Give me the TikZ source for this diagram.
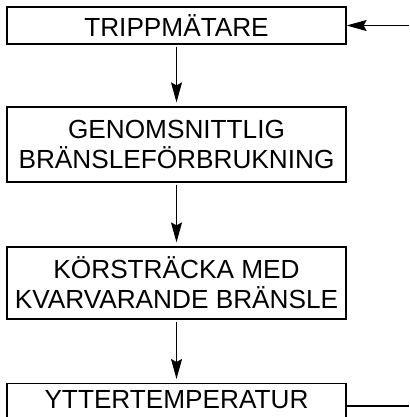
\documentclass[tikz,border=0pt]{standalone}
\usepackage{fontspec}
\setmainfont{Liberation Sans}
\usetikzlibrary{arrows.meta}
\begin{document}
\begin{tikzpicture}[x=1pt,y=-1pt,
  box/.style={draw, line width=1.2pt, minimum width=339pt, inner sep=0pt, align=center,
    font=\fontsize{26.2}{30}\selectfont},
  txt/.style={inner sep=0pt, font=\fontsize{26.2}{30}\selectfont},
  conn/.style={line width=1.2pt},
  arr/.style={conn, -{Stealth[length=20pt,width=11pt,inset=3pt]}}]
\useasboundingbox (0,0) rectangle (409,417);
\clip (0,0) rectangle (409,417);
\node[box, minimum height=37pt] (b1) at (176.5,25.5) {TRIPPMÄTARE};
\node[box, minimum height=75pt] (b2) at (176.5,144.5) {GENOMSNITTLIG\\BRÄNSLEFÖRBRUKNING};
\node[box, minimum height=72pt] (b3) at (176.5,283) {KÖRSTRÄCKA MED\\KVARVARANDE BRÄNSLE};
\node[box, minimum height=60pt, anchor=north] (b4) at (176.5,383) {};
\node[txt] (t4) at (176.5,399.5) {YTTERTEMPERATUR};
\coordinate (in1) at (409,25.5);
\coordinate (out4) at (409,406);
\draw[arr] (in1) -- (b1.east);
\draw[arr] ([yshift=-2pt]b1.south) -- ([yshift=4pt]b2.north);
\draw[arr] ([yshift=-2pt]b2.south) -- ([yshift=4pt]b3.north);
\draw[arr] ([yshift=-2pt]b3.south) -- ([yshift=4pt]b4.north);
\draw[conn] (b4.east |- out4) -- (out4);
\end{tikzpicture}
\end{document}
